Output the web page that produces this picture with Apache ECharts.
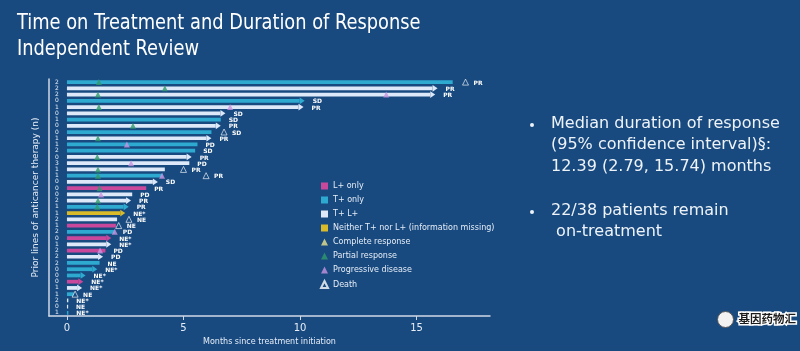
<!DOCTYPE html>
<html>
<head>
<meta charset="utf-8">
<script src="https://cdn.jsdelivr.net/npm/echarts@6/dist/echarts.min.js"></script>
<style>
html, body { margin: 0; padding: 0; background: #184a80; }
#chart { width: 800px; height: 351px; }
</style>
</head>
<body>
<div id="chart"></div>
<script>
// one entry per patient, top to bottom
var patients = [];
for (var p = 1; p <= 38; p++) patients.push('P' + p);
var priorLines = [2, 2, 2, 0, 1, 0, 1, 0, 0, 1, 1, 2, 0, 3, 1, 1, 0, 0, 0, 2, 1, 1, 2, 1, 2, 0, 1, 2, 2, 2, 0, 0, 0, 1, 1, 2, 0, 1];
// L = L+ only, T = T+ only, TL = T+ L+, N = neither
var barType = ['T', 'TL', 'TL', 'T', 'TL', 'TL', 'T', 'TL', 'T', 'TL', 'T', 'T', 'TL', 'TL', 'TL', 'T', 'TL', 'L', 'TL', 'TL', 'T', 'N', 'TL', 'L', 'T', 'L', 'TL', 'L', 'TL', 'T', 'T', 'T', 'L', 'TL', 'T', 'TL', 'TL', 'T'];
var barEnd = [16.55, 15.9, 15.8, 10.2, 10.15, 6.8, 6.6, 6.6, 6.2, 6.2, 5.6, 5.5, 5.35, 5.25, 4.2, 4.1, 3.9, 3.4, 2.8, 2.75, 2.65, 2.5, 2.15, 2.1, 2.05, 1.9, 1.9, 1.65, 1.55, 1.4, 1.3, 0.8, 0.7, 0.65, 0.3, 0.06, 0.04, 0.06];
var ongoing = [0, 1, 1, 1, 1, 1, 0, 1, 0, 1, 0, 0, 1, 0, 0, 0, 1, 0, 0, 1, 1, 1, 0, 0, 0, 1, 1, 0, 1, 0, 1, 1, 1, 1, 0, 0, 0, 0];
var bestResponse = ['PR', 'PR', 'PR', 'SD', 'PR', 'SD', 'SD', 'PR', 'SD', 'PR', 'PD', 'SD', 'PR', 'PD', 'PR', 'PR', 'SD', 'PR', 'PD', 'PR', 'PR', 'NE*', 'NE', 'NE', 'PD', 'NE*', 'NE*', 'PD', 'PD', 'NE', 'NE*', 'NE*', 'NE*', 'NE*', 'NE', 'NE*', 'NE', 'NE*'];
// [row, month]
var partialResp = [[0, 1.37], [1, 4.2], [2, 1.33], [4, 1.37], [7, 2.83], [9, 1.33], [12, 1.3], [14, 1.33], [15, 1.33], [17, 1.4], [19, 1.33], [20, 1.3]];
var progression = [[2, 13.7], [4, 7.0], [10, 2.57], [13, 2.75], [15, 4.08], [18, 1.46], [24, 2.05], [27, 1.42]];
var completeResp = [];
var deaths = [[0, 17.1], [8, 6.74], [14, 5.0], [15, 5.97], [22, 2.66], [23, 2.22], [34, 0.35]];

var xTicks = [0, 5, 10, 15];

var typeInfo = [
	{ key: 'L', name: 'L+ only', color: '#c9489c' },
	{ key: 'T', name: 'T+ only', color: '#2ea9d0' },
	{ key: 'TL', name: 'T+ L+', color: '#dde9f8' },
	{ key: 'N', name: 'Neither T+ nor L+ (information missing)', color: '#d9bb2a' }
];

var textFont = '"DejaVu Sans"';

function renderBar(params, api) {
	var end = api.value(0);
	var row = api.value(1);
	var arrow = api.value(2);
	var a = api.coord([0, row]);
	var b = api.coord([end, row]);
	var h = api.size([0, 1])[1] * 0.6;
	var color = api.visual('color');
	var head = arrow ? 5 : 0;
	var shaftEnd = Math.max(b[0] - head, a[0] + 1);
	var children = [{
		type: 'rect',
		shape: { x: a[0], y: a[1] - h / 2, width: Math.max(shaftEnd - a[0], 1.2), height: h },
		style: { fill: color }
	}];
	if (arrow) {
		children.push({
			type: 'polygon',
			shape: { points: [[shaftEnd, a[1] - h * 0.9], [b[0], a[1]], [shaftEnd, a[1] + h * 0.9]] },
			style: { fill: color }
		});
	}
	return { type: 'group', children: children };
}

function renderLabel(params, api) {
	var pt = api.coord([api.value(0), api.value(1)]);
	return {
		type: 'text',
		x: pt[0] + 8,
		y: pt[1] + 1,
		style: {
			text: bestResponse[params.dataIndex],
			fill: '#ffffff',
			font: 'bold 6px "DejaVu Sans"',
			verticalAlign: 'middle'
		}
	};
}

var series = [];
typeInfo.forEach(function(t) {
	var d = [];
	for (var i = 0; i < barEnd.length; i++) {
		if (barType[i] === t.key) d.push([barEnd[i], i, ongoing[i]]);
	}
	series.push({
		name: t.name,
		type: 'custom',
		renderItem: renderBar,
		itemStyle: { color: t.color },
		encode: { x: 0, y: 1 },
		data: d,
		z: 2
	});
});

function markerData(list) {
	return list.map(function(m) { return [m[1], m[0]]; });
}

series.push({
	name: 'Complete response', type: 'scatter', symbol: 'triangle', symbolSize: 6,
	itemStyle: { color: '#e8e48c' }, data: markerData(completeResp), z: 3
});
series.push({
	name: 'Partial response', type: 'scatter', symbol: 'triangle', symbolSize: 6,
	itemStyle: { color: '#2f9a6c' }, data: markerData(partialResp), z: 3
});
series.push({
	name: 'Progressive disease', type: 'scatter', symbol: 'triangle', symbolSize: 6,
	itemStyle: { color: '#c993e0' }, data: markerData(progression), z: 3
});
series.push({
	name: 'Death', type: 'scatter', symbol: 'triangle', symbolSize: 6,
	itemStyle: { color: '#184a80', borderColor: '#ffffff', borderWidth: 0.8 },
	data: markerData(deaths), z: 3
});

var labelPos = [];
for (var i = 0; i < barEnd.length; i++) {
	var x = barEnd[i];
	deaths.forEach(function(d) { if (d[0] === i && d[1] > x) x = d[1]; });
	labelPos.push([x, i]);
}
series.push({
	name: 'labels', type: 'custom', renderItem: renderLabel,
	encode: { x: 0, y: 1 }, data: labelPos, z: 4, silent: true
});

var chart = echarts.init(document.getElementById('chart'));
chart.setOption({
	backgroundColor: '#184a80',
	animation: false,
	legend: {
		orient: 'vertical',
		left: 315,
		top: 177,
		itemWidth: 7,
		itemHeight: 7,
		itemGap: 6,
		textStyle: { color: '#e6edf6', fontSize: 8, fontFamily: textFont },
		data: [
			{ name: 'L+ only', icon: 'rect' },
			{ name: 'T+ only', icon: 'rect' },
			{ name: 'T+ L+', icon: 'rect' },
			{ name: 'Neither T+ nor L+ (information missing)', icon: 'rect' },
			{ name: 'Complete response', icon: 'triangle' },
			{ name: 'Partial response', icon: 'triangle' },
			{ name: 'Progressive disease', icon: 'triangle' },
			{ name: 'Death', icon: 'triangle' }
		]
	},
	grid: { left: 49, right: 310, top: 79, bottom: 35 },
	xAxis: {
		type: 'value',
		min: -0.77,
		max: 18.15,
		name: 'Months since treatment initiation',
		nameLocation: 'middle',
		nameGap: 18,
		nameTextStyle: { color: '#e6edf6', fontSize: 8, fontFamily: textFont },
		axisLine: { show: true, lineStyle: { color: '#cfd9e6', width: 1.5 } },
		axisTick: { show: true, customValues: xTicks, length: 4, lineStyle: { color: '#cfd9e6' } },
		axisLabel: { customValues: xTicks, color: '#e6edf6', fontSize: 10, margin: 7, fontFamily: textFont },
		splitLine: { show: false }
	},
	yAxis: {
		type: 'category',
		inverse: true,
		data: patients,
		name: 'Prior lines of anticancer therapy (n)',
		nameLocation: 'middle',
		nameGap: 9,
		nameTextStyle: { color: '#e6edf6', fontSize: 9, fontFamily: textFont },
		axisLine: { show: true, onZero: false, lineStyle: { color: '#cfd9e6', width: 1.5 } },
		axisTick: { show: false },
		axisLabel: {
			inside: true,
			margin: 6,
			interval: 0,
			fontSize: 6,
			color: '#e6edf6',
			fontFamily: textFont,
			formatter: function(v, idx) { return String(priorLines[idx]); }
		}
	},
	graphic: [
		{ type: 'text', left: 17, top: 12, scaleX: 0.9, style: { text: 'Time on Treatment and Duration of Response', fill: '#ffffff', font: '22px "DejaVu Sans Condensed"' } },
		{ type: 'text', left: 17, top: 38, scaleX: 0.9, style: { text: 'Independent Review', fill: '#ffffff', font: '22px "DejaVu Sans Condensed"' } },
		{ type: 'circle', left: 530, top: 123, shape: { r: 2 }, style: { fill: '#eef3f8' } },
		{ type: 'text', left: 551, top: 113, style: { text: 'Median duration of response\n(95% confidence interval)§:\n12.39 (2.79, 15.74) months', fill: '#eef3f8', font: '16px "DejaVu Sans"', lineHeight: 21.5 } },
		{ type: 'circle', left: 530, top: 210, shape: { r: 2 }, style: { fill: '#eef3f8' } },
		{ type: 'text', left: 551, top: 200, style: { text: '22/38 patients remain\n on-treatment', fill: '#eef3f8', font: '16px "DejaVu Sans"', lineHeight: 21.5 } },
		{ type: 'circle', left: 717, top: 311, shape: { r: 8 }, style: { fill: '#f2f2f2', stroke: '#555', lineWidth: 1 } },
		{ type: 'text', left: 737, top: 311, style: { text: '基因药物汇', fill: '#1b1b1b', font: 'bold 11.5px "Noto Sans CJK SC"', stroke: '#ffffff', lineWidth: 3 } }
	],
	series: series
});
</script>
</body>
</html>
